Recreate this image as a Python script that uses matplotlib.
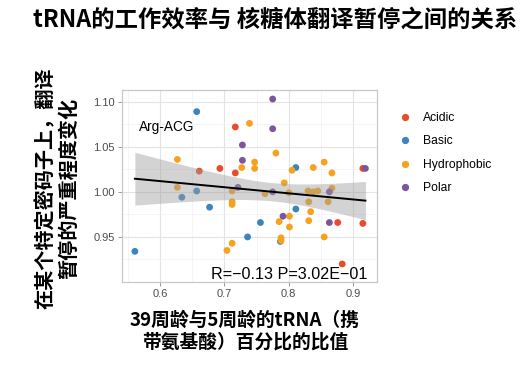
import numpy as np
import matplotlib
matplotlib.use("Agg")
import matplotlib.pyplot as plt
from matplotlib.lines import Line2D

CJK = ["Noto Sans CJK SC", "DejaVu Sans"]
LATIN = ["Liberation Sans", "DejaVu Sans"]

# ---------------- data ----------------
acidic_x = [0.717, 0.661, 0.693, 0.717, 0.876, 0.883, 0.915, 0.915]
acidic_y = [1.072, 1.023, 1.026, 1.021, 0.966, 0.920, 1.026, 0.965]

basic_x = [0.561, 0.657, 0.657, 0.634, 0.677, 0.756, 0.736, 0.787, 0.811, 0.811]
basic_y = [0.934, 1.089, 1.001, 0.994, 0.983, 0.966, 0.950, 0.945, 1.027, 0.981]

hydro_x = [0.627, 0.627, 0.739, 0.727, 0.747, 0.747, 0.712, 0.712, 0.712, 0.712,
           0.704, 0.780, 0.763, 0.793, 0.800, 0.805, 0.801, 0.801, 0.785, 0.788,
           0.788, 0.838, 0.855, 0.867, 0.867, 0.830, 0.838, 0.845, 0.831, 0.834,
           0.831, 0.855, 0.861]
hydro_y = [1.036, 1.005, 1.076, 1.027, 1.033, 1.026, 1.001, 0.989, 0.986, 0.943,
           0.935, 1.043, 0.998, 1.010, 0.999, 1.024, 0.973, 0.961, 0.967, 0.949,
           0.946, 1.027, 1.033, 1.021, 1.004, 1.001, 1.000, 1.001, 0.989, 0.978,
           0.968, 0.950, 0.989]

polar_x = [0.775, 0.775, 0.728, 0.728, 0.721, 0.775, 0.791, 0.863, 0.863, 0.919]
polar_y = [1.103, 1.070, 1.052, 1.035, 1.005, 1.000, 0.973, 1.000, 0.966, 1.026]

groups = ["Acidic", "Basic", "Hydrophobic", "Polar"]
colors = ["#EC4A2C", "#3C84BF", "#F6A21C", "#7B55A0"]
xs = [acidic_x, basic_x, hydro_x, polar_x]
ys = [acidic_y, basic_y, hydro_y, polar_y]

x_ticks = [0.6, 0.7, 0.8, 0.9]
y_ticks = [0.95, 1.00, 1.05, 1.10]
stat_label = "R=\u22120.13 P=3.02E\u221201"
codon_label = "Arg-ACG"

# ---------------- figure ----------------
fig = plt.figure(figsize=(5.31, 3.69), dpi=100)
ax = fig.add_axes([122 / 531, 1 - 282 / 369, 255 / 531, 192 / 369])

for gx, gy, c in zip(xs, ys, colors):
    ax.scatter(gx, gy, s=24, color=c, edgecolors="none", zorder=3)

# linear fit with 95% confidence band
all_x = np.concatenate([np.array(v) for v in xs])
all_y = np.concatenate([np.array(v) for v in ys])
b, a = np.polyfit(all_x, all_y, 1)
n = len(all_x)
resid = all_y - (a + b * all_x)
s = np.sqrt(np.sum(resid ** 2) / (n - 2))
xg = np.linspace(all_x.min(), all_x.max(), 100)
se = s * np.sqrt(1 / n + (xg - all_x.mean()) ** 2 / np.sum((all_x - all_x.mean()) ** 2))
yfit = a + b * xg
ax.fill_between(xg, yfit - 2.0 * se, yfit + 2.0 * se, color="#9e9e9e", alpha=0.45,
                linewidth=0, zorder=4)
ax.plot(xg, yfit, color="black", lw=1.4, zorder=5)

ax.set_xlim(0.541, 0.937)
ax.set_ylim(0.900, 1.113)
ax.set_xticks(x_ticks)
ax.set_xticklabels([f"{v:.1f}" for v in x_ticks])
ax.set_yticks(y_ticks)
ax.set_yticklabels([f"{v:.2f}" for v in y_ticks])
ax.set_xticks([0.55, 0.65, 0.75, 0.85], minor=True)
ax.set_yticks([0.925, 0.975, 1.025, 1.075], minor=True)
ax.grid(True, which="major", color="#e3e3e3", lw=0.8, zorder=0)
ax.grid(True, which="minor", color="#f1f1f1", lw=0.5, zorder=0)
ax.set_axisbelow(True)
ax.tick_params(which="major", length=3, width=0.6, color="#888888",
               labelsize=8, labelcolor="#4d4d4d", pad=2)
ax.tick_params(which="minor", length=0)
for lab in ax.get_xticklabels() + ax.get_yticklabels():
    lab.set_family(LATIN)
for sp in ax.spines.values():
    sp.set_color("#c8c8c8")
    sp.set_linewidth(0.9)

ax.text(0.567, 1.072, codon_label, fontsize=9.8, family=LATIN, va="center", ha="left")
ax.text(0.922, 0.9085, stat_label, fontsize=11.6, family=LATIN, va="center", ha="right",
        zorder=6)

# legend
handles = [Line2D([], [], marker="o", ls="none", color=c, markersize=4.2) for c in colors]
fig.legend(handles, groups, loc="upper left", bbox_to_anchor=(387 / 531, 1 - 101 / 369),
           frameon=False, prop={"family": LATIN, "size": 8.7}, labelspacing=0.95,
           handletextpad=0.9, handlelength=1.2)

# titles / labels
fig.text(275 / 531, 1 - 20 / 369, "tRNA的工作效率与 核糖体翻译暂停之间的关系",
         family=CJK, fontsize=16.8, fontweight="bold", ha="center", va="center")
fig.text(57 / 531, 1 - 188 / 369, "在某个特定密码子上，翻译\n暂停的严重程度变化",
         family=CJK, fontsize=14.5, fontweight="bold", ha="center", va="center",
         rotation=90, linespacing=1.15, multialignment="center")
fig.text(245 / 531, 1 - 331 / 369, "39周龄与5周龄的tRNA（携\n带氨基酸）百分比的比值",
         family=CJK, fontsize=13.5, fontweight="bold", ha="center", va="center",
         linespacing=1.2, multialignment="center")

fig.savefig("out.png", dpi=100)
